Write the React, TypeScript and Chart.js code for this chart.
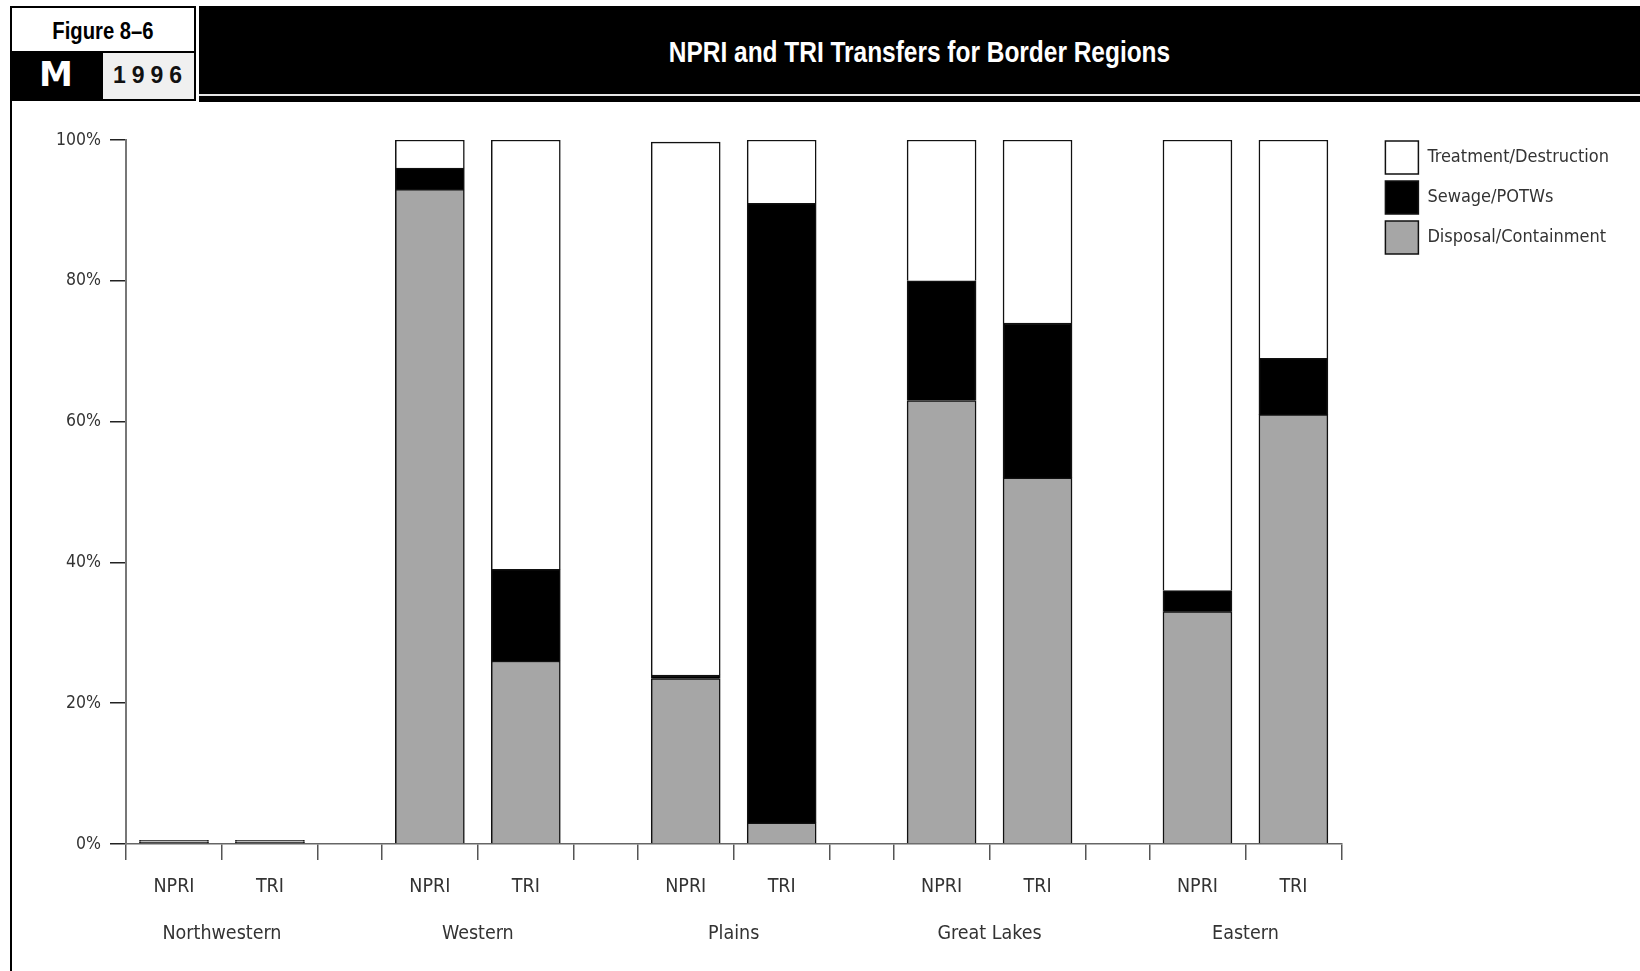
import React, { useEffect, useRef } from 'react';
import { Chart, registerables } from 'chart.js';

Chart.register(...registerables);

// ---- data ----
const regions = ['Northwestern', 'Western', 'Plains', 'Great Lakes', 'Eastern'];
const inventories = ['NPRI', 'TRI'];
const disposalContainment = [0, 0, 93, 26, 23.5, 3, 63, 52, 33, 61];
const sewagePOTWs = [0, 0, 3, 13, 0.5, 88, 17, 22, 3, 8];
const treatmentDestruction = [0, 0, 4, 61, 75.7, 9, 20, 26, 64, 31];
const yTickValues = [0, 20, 40, 60, 80, 100];
const seriesLabels = ['Disposal/Containment', 'Sewage/POTWs', 'Treatment/Destruction'];
const seriesColors = ['#a6a6a6', '#000000', '#ffffff'];

// ---- slot structure on a linear x scale (NPRI slot, TRI slot, gap) ----
const BAR_SLOT = 3;
const GAP_SLOT = 2;
const GROUP_SPAN = inventories.length * BAR_SLOT + GAP_SLOT;
const X_MAX = regions.length * GROUP_SPAN - GAP_SLOT;

const FONT = "'DejaVu Sans Condensed', 'Liberation Sans Narrow', sans-serif";

function slotCenter(index: number): number {
  const r = Math.floor(index / inventories.length);
  const k = index % inventories.length;
  return r * GROUP_SPAN + k * BAR_SLOT + BAR_SLOT / 2;
}

const boundaries: number[] = [];
regions.forEach((_, r) => {
  for (let k = 0; k <= inventories.length; k++) boundaries.push(r * GROUP_SPAN + k * BAR_SLOT);
});
const boundarySet = new Set(boundaries);
const labelMap = new Map<number, string | string[]>();
regions.forEach((name, r) => {
  inventories.forEach((inv, k) => labelMap.set(r * GROUP_SPAN + k * BAR_SLOT + BAR_SLOT / 2, inv));
  labelMap.set(r * GROUP_SPAN + (inventories.length * BAR_SLOT) / 2, ['', name]);
});
const xTickValues = Array.from(new Set([...boundaries, ...labelMap.keys()])).sort((a, b) => a - b);

const seriesValues = [disposalContainment, sewagePOTWs, treatmentDestruction];

function ChartCanvas() {
  const ref = useRef<HTMLCanvasElement | null>(null);
  useEffect(() => {
    if (!ref.current) return;
    const chart = new Chart(ref.current, {
      type: 'bar',
      data: {
        datasets: seriesValues.map((vals, i) => ({
          label: seriesLabels[i],
          data: vals.map((v, j) => ({ x: slotCenter(j), y: v })),
          backgroundColor: seriesColors[i],
          borderColor: '#111111',
          borderWidth: 1.5,
          stack: 'all',
          barThickness: 69,
          minBarLength: 1.5,
          xAxisID: 'x',
          yAxisID: 'y',
        })),
      },
      options: {
        responsive: false,
        animation: false,
        devicePixelRatio: 1,
        layout: { padding: { top: 31, right: 21, bottom: 0, left: 0 } },
        plugins: {
          legend: {
            position: 'right',
            align: 'start',
            reverse: true,
            labels: {
              boxWidth: 33,
              boxHeight: 33,
              padding: 7,
              color: '#333333',
              font: { family: FONT, size: 18 },
            },
          },
          tooltip: { enabled: false },
          title: { display: false },
        },
        scales: {
          x: {
            type: 'linear',
            position: 'bottom',
            offset: false,
            min: 0,
            max: X_MAX,
            afterBuildTicks: (s: any) => {
              s.ticks = xTickValues.map((v) => ({ value: v }));
            },
            afterFit: (s: any) => {
              s.height = 127;
            },
            grid: {
              offset: false,
              drawOnChartArea: false,
              drawTicks: true,
              tickLength: 16,
              lineWidth: 1.5,
              color: (ctx: any) =>
                ctx.tick && boundarySet.has(ctx.tick.value) ? '#555555' : 'rgba(0,0,0,0)',
            },
            border: { display: true, color: '#666666', width: 1.5 },
            ticks: {
              autoSkip: false,
              maxRotation: 0,
              minRotation: 0,
              padding: 3,
              color: '#333333',
              font: { family: FONT, size: 19.5, lineHeight: '47px' },
              callback: (v: any) => labelMap.get(Number(v)) ?? '',
            },
          },
          y: {
            type: 'linear',
            position: 'left',
            stacked: true,
            min: 0,
            max: 100,
            afterBuildTicks: (s: any) => {
              s.ticks = yTickValues.map((v) => ({ value: v }));
            },
            afterFit: (s: any) => {
              s.width = 114;
            },
            grid: {
              drawOnChartArea: false,
              drawTicks: true,
              tickLength: 16,
              lineWidth: 1.5,
              color: '#222222',
            },
            border: { display: true, color: '#777777', width: 2 },
            ticks: {
              padding: 9,
              color: '#333333',
              font: { family: FONT, size: 17.5 },
              callback: (v: any) => v + '%',
            },
          },
          xGap: {
            type: 'linear',
            position: 'top',
            display: true,
            grid: { display: false },
            border: { display: false },
            ticks: { display: false },
            afterFit: (s: any) => {
              s.height = 6;
            },
          },
          yGap: {
            type: 'linear',
            position: 'right',
            display: true,
            grid: { display: false },
            border: { display: false },
            ticks: { display: false },
            afterFit: (s: any) => {
              s.width = 37;
            },
          },
        },
      } as any,
    });
    return () => chart.destroy();
  }, []);
  return <canvas ref={ref} width={1628} height={868} style={{ display: 'block' }} />;
}

export default function App() {
  const sansBold = "'Liberation Sans', Arial, sans-serif";
  return (
    <div
      style={{
        position: 'absolute',
        left: 0,
        top: 0,
        width: 1640,
        height: 971,
        overflow: 'hidden',
        background: '#ffffff',
      }}
    >
      {/* Figure label box */}
      <div
        style={{
          position: 'absolute',
          left: 10,
          top: 6,
          width: 182,
          height: 43,
          border: '2px solid #000',
          background: '#fff',
        }}
      />
      <div
        style={{
          position: 'absolute',
          left: 12,
          top: 19.5,
          width: 182,
          textAlign: 'center',
          fontFamily: sansBold,
          fontWeight: 'bold',
          fontSize: 23,
          lineHeight: '23px',
          color: '#000',
          transform: 'scaleX(0.88)',
          transformOrigin: '50% 50%',
          whiteSpace: 'nowrap',
        }}
      >
        Figure 8–6
      </div>
      {/* M / year band */}
      <div style={{ position: 'absolute', left: 10, top: 51, width: 186, height: 50, background: '#000' }} />
      <div
        style={{
          position: 'absolute',
          left: 39,
          top: 57,
          fontFamily: "'DejaVu Sans', sans-serif",
          fontWeight: 'bold',
          fontSize: 34,
          lineHeight: '34px',
          color: '#fff',
        }}
      >
        M
      </div>
      <div style={{ position: 'absolute', left: 103, top: 53, width: 91, height: 46, background: '#f0f0f0' }} />
      <div
        style={{
          position: 'absolute',
          left: 113,
          top: 63.5,
          fontFamily: sansBold,
          fontWeight: 'bold',
          fontSize: 23,
          lineHeight: '23px',
          letterSpacing: 6,
          color: '#111',
        }}
      >
        1996
      </div>
      {/* Title bar */}
      <div style={{ position: 'absolute', left: 199, top: 6, width: 1441, height: 96, background: '#000' }} />
      <div style={{ position: 'absolute', left: 199, top: 94, width: 1441, height: 1.5, background: '#e6e6e6' }} />
      <div
        style={{
          position: 'absolute',
          left: 199,
          top: 37,
          width: 1441,
          textAlign: 'center',
          fontFamily: sansBold,
          fontWeight: 'bold',
          fontSize: 30,
          lineHeight: '30px',
          color: '#fff',
          transform: 'scaleX(0.815)',
          transformOrigin: '50% 50%',
          whiteSpace: 'nowrap',
        }}
      >
        NPRI and TRI Transfers for Border Regions
      </div>
      {/* left frame line */}
      <div style={{ position: 'absolute', left: 10, top: 100, width: 2, height: 871, background: '#000' }} />
      {/* chart */}
      <div style={{ position: 'absolute', left: 12, top: 103, width: 1628, height: 868 }}>
        <ChartCanvas />
      </div>
    </div>
  );
}
